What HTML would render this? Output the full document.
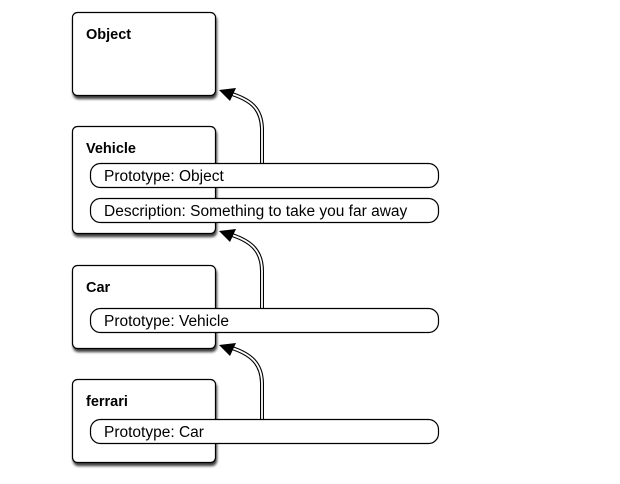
<!DOCTYPE html>
<html><head><style>body{margin:0;background:#fff}</style></head><body>
<svg width="620" height="479" xmlns="http://www.w3.org/2000/svg" font-family="Liberation Sans, sans-serif">
<defs><filter id="s" x="-10%" y="-10%" width="130%" height="130%"><feDropShadow dx="1" dy="3" stdDeviation="1.2" flood-color="#000" flood-opacity="0.75"/></filter></defs>
<g fill="#fff" stroke="#000" stroke-width="1.2" filter="url(#s)">
<rect x="72.5" y="12.5" width="143" height="83" rx="5"/>
<rect x="72.5" y="126.5" width="143" height="107" rx="5"/>
<rect x="72.5" y="265.5" width="143" height="83" rx="5"/>
<rect x="72.5" y="379.5" width="143" height="83" rx="5"/>
</g>
<g font-weight="bold" font-size="14.5">
<text x="86" y="39">Object</text>
<text x="86" y="153">Vehicle</text>
<text x="86" y="292">Car</text>
<text x="86" y="406">ferrari</text>
</g>
<g fill="none">
<path d="M262 163 L262 130 C262 108 250 100 232 94" stroke="#000" stroke-width="4"/>
<path d="M262 163 L262 130 C262 108 250 100 232 94" stroke="#fff" stroke-width="1.8"/>
<path d="M262 308 L262 271 C262 250 250 241 232 235" stroke="#000" stroke-width="4"/>
<path d="M262 308 L262 271 C262 250 250 241 232 235" stroke="#fff" stroke-width="1.8"/>
<path d="M262 419 L262 384 C262 363 250 354 232 348" stroke="#000" stroke-width="4"/>
<path d="M262 419 L262 384 C262 363 250 354 232 348" stroke="#fff" stroke-width="1.8"/>
</g>
<g fill="#000">
<polygon points="219,90 236,88 230,101"/>
<polygon points="219,231 236,229 230,242"/>
<polygon points="219,345 236,343 230,356"/>
</g>
<g fill="#fff" stroke="#000" stroke-width="1.2">
<rect x="90.5" y="163.5" width="348" height="24" rx="10"/>
<rect x="90.5" y="198.5" width="348" height="24" rx="10"/>
<rect x="90.5" y="308.5" width="348" height="24" rx="10"/>
<rect x="90.5" y="419.5" width="348" height="24" rx="10"/>
</g>
<g font-size="15.5">
<text x="104" y="181">Prototype: Object</text>
<text x="104" y="216">Description: Something to take you far away</text>
<text x="104" y="326">Prototype: Vehicle</text>
<text x="104" y="437">Prototype: Car</text>
</g>
</svg>
</body></html>
